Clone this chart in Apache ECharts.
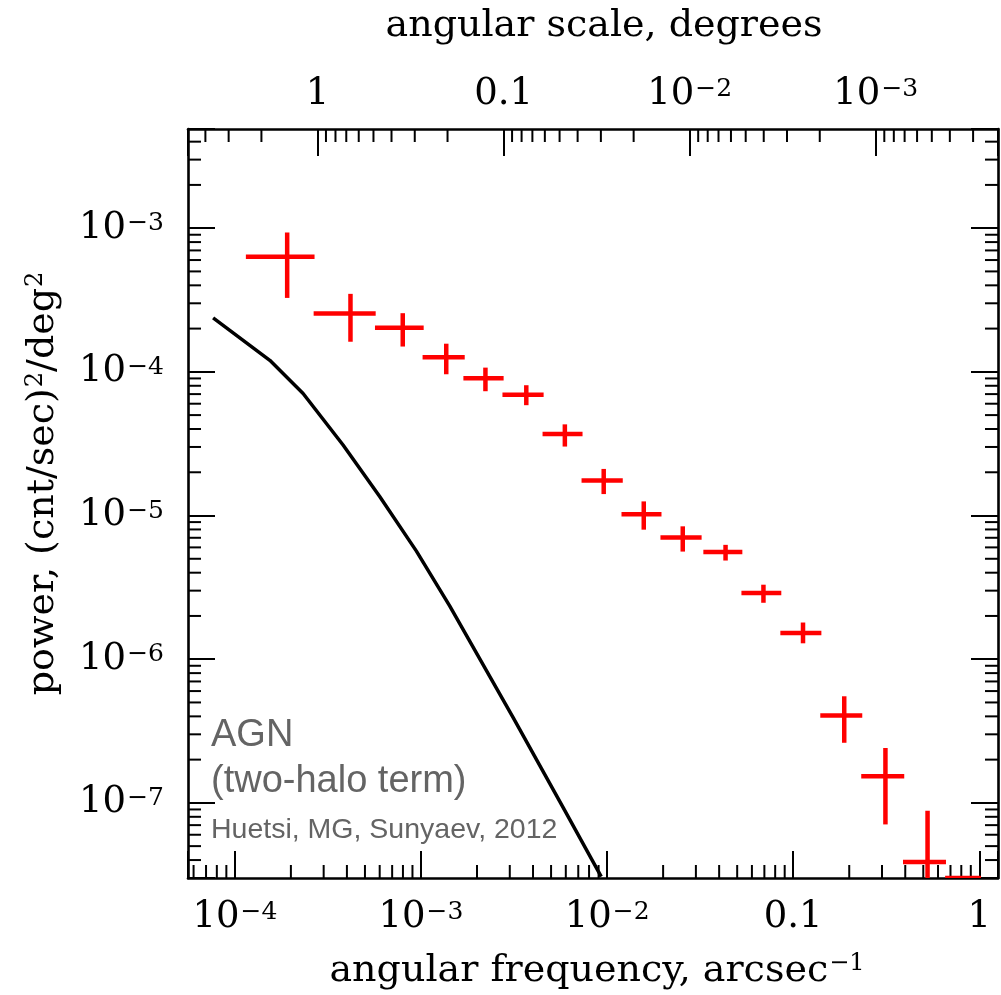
<!DOCTYPE html>
<html><head><meta charset="utf-8">
<script src="https://cdn.jsdelivr.net/npm/echarts@6/dist/echarts.min.js"></script>
<style>html,body{margin:0;padding:0;background:#fff}#chart{width:1001px;height:995px}</style>
</head><body><div id="chart"></div>
<script>
// ---- measured power spectrum (red crosses) ----
const freqCenter = [1.91e-4, 4.18e-4, 7.98e-4, 1.367e-3, 2.22e-3, 3.68e-3, 5.93e-3, 9.59e-3, 1.574e-2, 2.55e-2, 4.33e-2, 6.92e-2, 0.1129, 0.188, 0.313, 0.527, 0.819];
const freqLow    = [1.146e-4, 2.65e-4, 5.66e-4, 1.02e-3, 1.69e-3, 2.74e-3, 4.50e-3, 7.29e-3, 1.195e-2, 1.935e-2, 3.29e-2, 5.27e-2, 8.53e-2, 0.1398, 0.232, 0.389, 0.655];
const freqHigh   = [2.68e-4, 5.71e-4, 1.034e-3, 1.718e-3, 2.78e-3, 4.56e-3, 7.38e-3, 1.214e-2, 1.96e-2, 3.22e-2, 5.33e-2, 8.63e-2, 0.1417, 0.235, 0.395, 0.662, 1.02];
const power      = [6.33e-4, 2.55e-4, 2.03e-4, 1.262e-4, 9.02e-5, 6.92e-5, 3.69e-5, 1.754e-5, 1.019e-5, 7.02e-6, 5.58e-6, 2.89e-6, 1.524e-6, 4.06e-7, 1.53e-7, 3.88e-8, 3.0e-8];
const powerLow   = [3.27e-4, 1.62e-4, 1.50e-4, 9.62e-5, 7.33e-5, 5.86e-5, 3.02e-5, 1.41e-5, 7.97e-6, 5.61e-6, 4.86e-6, 2.47e-6, 1.29e-6, 2.62e-7, 7.08e-8, 1.0e-8, 1.0e-8];
const powerHigh  = [9.33e-4, 3.49e-4, 2.56e-4, 1.57e-4, 1.07e-4, 8.07e-5, 4.31e-5, 2.11e-5, 1.254e-5, 8.41e-6, 6.25e-6, 3.30e-6, 1.80e-6, 5.52e-7, 2.41e-7, 8.8e-8, 3.0e-8];

// ---- AGN two-halo model (black curve) ----
const modelFreq  = [7.64e-5, 1.541e-4, 2.326e-4, 3.814e-4, 6.0e-4, 9.45e-4, 1.426e-3, 3.118e-3, 5.78e-3, 9.30e-3];
const modelPower = [2.377e-4, 1.202e-4, 7.07e-5, 3.096e-5, 1.358e-5, 5.65e-6, 2.35e-6, 3.95e-7, 9.38e-8, 3.07e-8];

// ---- axes ----
const xMin = 5.6e-5, xMax = 1.26;   // arcsec^-1
const yMin = 3.0e-8, yMax = 4.9e-3; // (cnt/sec)^2/deg^2
const bottomTicks = [1e-4, 1e-3, 1e-2, 0.1, 1];
const bottomTickLabels = ['10^−4', '10^−3', '10^−2', '0.1', '1'];
const topTicks = [1, 0.1, 1e-2, 1e-3];            // degrees
const topTickLabels = ['1', '0.1', '10^−2', '10^−3'];
const leftTicks = [1e-3, 1e-4, 1e-5, 1e-6, 1e-7];
const leftTickLabels = ['10^−3', '10^−4', '10^−5', '10^−6', '10^−7'];
const annotation = ['AGN', '(two-halo term)', 'Huetsi, MG, Sunyaev, 2012'];

const SERIF = 'DejaVu Serif';
const degMin = 1 / (3600 * xMax), degMax = 1 / (3600 * xMin);

function richLabel(txt) {
  const p = txt.split('^');
  return p.length === 2 ? '{n|' + p[0] + '}{s|' + p[1] + '}' : '{n|' + txt + '}';
}
function makeFormatter(ticks, labels) {
  return function (v) {
    for (let i = 0; i < ticks.length; i++) {
      if (Math.abs(Math.log10(v) - Math.log10(ticks[i])) < 1e-6) return richLabel(labels[i]);
    }
    return '';
  };
}
const labelRich = {
  n: { fontFamily: SERIF, fontSize: 37, lineHeight: 40, color: '#000' },
  s: { fontFamily: SERIF, fontSize: 25, lineHeight: 25, verticalAlign: 'top', padding: [3, 0, 0, 1], color: '#000' }
};
const nameRich = {
  t: { fontFamily: SERIF, fontSize: 38, lineHeight: 42, color: '#000' },
  s: { fontFamily: SERIF, fontSize: 24, lineHeight: 24, verticalAlign: 'top', padding: [2, 0, 0, 1], color: '#000' }
};

// minor tick positions (2..9 per decade)
function minors(lo, hi) {
  const out = [];
  for (let e = Math.floor(Math.log10(lo)) - 1; e <= Math.ceil(Math.log10(hi)); e++)
    for (let m = 2; m <= 9; m++) { const v = m * Math.pow(10, e); if (v > lo && v < hi) out.push(v); }
  return out;
}
const minorData = [];
minors(xMin, xMax).forEach(v => minorData.push([v, yMin, 0]));
minors(degMin, degMax).forEach(d => minorData.push([1 / (3600 * d), yMin, 1]));
minors(yMin, yMax).forEach(v => { minorData.push([xMin, v, 2]); minorData.push([xMin, v, 3]); });

const crossData = freqCenter.map((f, i) => [f, power[i], freqLow[i], freqHigh[i], powerLow[i], powerHigh[i]]);
const modelData = modelFreq.map((f, i) => [f, modelPower[i]]);

const axisLine = { show: true, lineStyle: { color: '#000', width: 2.6 } };
const majorTick = { show: true, inside: true, length: 27, lineStyle: { color: '#000', width: 2 } };

const chart = echarts.init(document.getElementById('chart'), null, { renderer: 'canvas' });
chart.setOption({
  backgroundColor: '#fff',
  animation: false,
  grid: { left: 188, right: 2, top: 129, bottom: 113, containLabel: false },
  xAxis: [{
    type: 'log', position: 'bottom', min: xMin, max: xMax,
    axisLine, axisTick: majorTick, splitLine: { show: false }, minorTick: { show: false },
    axisLabel: { margin: 19, formatter: makeFormatter(bottomTicks, bottomTickLabels), rich: labelRich },
    name: '{t|angular frequency, arcsec}{s|−1}', nameLocation: 'middle', nameGap: 72,
    nameTextStyle: { rich: nameRich, padding: [0, 0, 0, 8] }
  }, {
    type: 'log', position: 'top', min: degMin, max: degMax, inverse: true,
    axisLine, axisTick: majorTick, splitLine: { show: false }, minorTick: { show: false },
    axisLabel: { margin: 15, formatter: makeFormatter(topTicks, topTickLabels), rich: labelRich },
    name: '{t|angular scale, degrees}', nameLocation: 'middle', nameGap: 82,
    nameTextStyle: { rich: nameRich, padding: [0, 0, 0, 22] }
  }],
  yAxis: [{
    type: 'log', position: 'left', min: yMin, max: yMax,
    axisLine, axisTick: majorTick, splitLine: { show: false }, minorTick: { show: false },
    axisLabel: { margin: 24, formatter: makeFormatter(leftTicks, leftTickLabels), rich: labelRich },
    name: '{t|power, (cnt/sec)}{s|2}{t|/deg}{s|2}', nameLocation: 'middle', nameGap: 124,
    nameTextStyle: { rich: nameRich, padding: [0, 0, 0, 40] }
  }, {
    type: 'log', position: 'right', min: yMin, max: yMax,
    axisLine, axisTick: majorTick, splitLine: { show: false }, minorTick: { show: false },
    axisLabel: { show: false }
  }],
  series: [{
    type: 'line', name: 'model', data: modelData, xAxisIndex: 0, yAxisIndex: 0,
    showSymbol: false, symbol: 'none', clip: true,
    lineStyle: { color: '#000', width: 3.5, cap: 'butt', join: 'round' }, z: 3
  }, {
    type: 'custom', name: 'data', data: crossData, xAxisIndex: 0, yAxisIndex: 0, clip: true,
    encode: { x: [0, 2, 3], y: [1, 4, 5] }, z: 4,
    renderItem: function (params, api) {
      const xc = api.value(0), yc = api.value(1);
      const a = api.coord([api.value(2), yc]), b = api.coord([api.value(3), yc]);
      const c = api.coord([xc, api.value(4)]), d = api.coord([xc, api.value(5)]);
      const st = { stroke: '#ff0000', lineWidth: 4.5, lineCap: 'butt' };
      return { type: 'group', children: [
        { type: 'line', shape: { x1: a[0], y1: a[1], x2: b[0], y2: b[1] }, style: st },
        { type: 'line', shape: { x1: c[0], y1: c[1], x2: d[0], y2: d[1] }, style: st }
      ] };
    }
  }, {
    type: 'custom', name: 'minor ticks', data: minorData, xAxisIndex: 0, yAxisIndex: 0,
    encode: { x: 0, y: 1 }, z: 1, silent: true,
    renderItem: function (params, api) {
      const cs = params.coordSys, L = 13, side = api.value(2);
      let sh;
      if (side === 0 || side === 1) {
        const x = api.coord([api.value(0), yMin])[0];
        const y0 = side === 0 ? cs.y + cs.height : cs.y;
        sh = { x1: x, y1: y0, x2: x, y2: side === 0 ? y0 - L : y0 + L };
      } else {
        const y = api.coord([xMin, api.value(1)])[1];
        const x0 = side === 2 ? cs.x : cs.x + cs.width;
        sh = { x1: x0, y1: y, x2: side === 2 ? x0 + L : x0 - L, y2: y };
      }
      return { type: 'line', shape: sh, style: { stroke: '#000', lineWidth: 2 } };
    }
  }],
  graphic: [
    { type: 'text', left: 211, top: 717, style: { text: annotation[0], font: '38px "Liberation Sans"', fill: '#646464' } },
    { type: 'text', left: 211, top: 763, style: { text: annotation[1], font: '38px "Liberation Sans"', fill: '#646464' } },
    { type: 'text', left: 211, top: 816, style: { text: annotation[2], font: '28.5px "Liberation Sans"', fill: '#646464' } }
  ]
});
</script></body></html>
